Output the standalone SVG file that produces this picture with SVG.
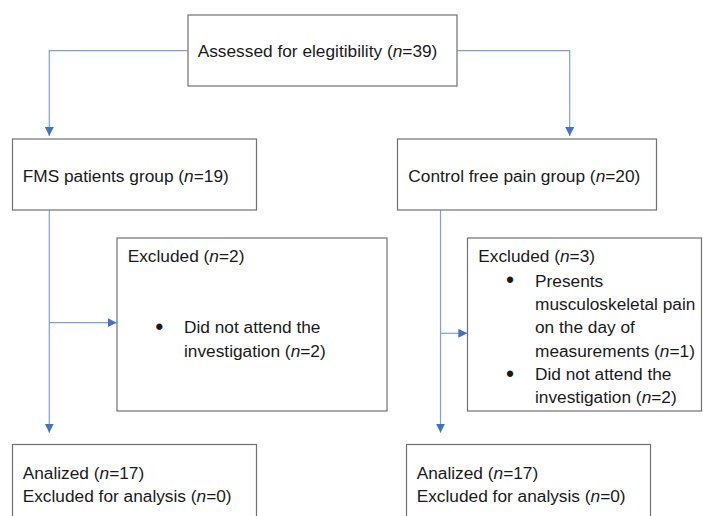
<svg xmlns="http://www.w3.org/2000/svg" width="703" height="516" viewBox="0 0 703 516">
<style>
.box{fill:#ffffff;stroke:#707070;stroke-width:1.2}
.t{font-family:"Liberation Sans",Arial,sans-serif;font-size:17.3px;fill:#1a1a1a}
.b{font-family:"Liberation Sans",Arial,sans-serif;font-size:23px;fill:#1a1a1a}
.i{font-style:italic}
.c{fill:none;stroke:#7f9fe0;stroke-width:1.2}
</style>
<defs>
<marker id="arr" markerUnits="userSpaceOnUse" markerWidth="10" markerHeight="10" refX="9" refY="4.5" orient="auto">
<path d="M0,0 L9,4.5 L0,9 z" fill="#4472c4"/>
</marker>
</defs>
<rect width="703" height="516" fill="#ffffff"/>
<g id="connectors">
<path class="c" d="M187.7,50.7 H49.3 V136" marker-end="url(#arr)"/>
<path class="c" d="M457.3,50.7 H569.7 V136" marker-end="url(#arr)"/>
<path class="c" d="M49.3,210.3 V432.7" marker-end="url(#arr)"/>
<path class="c" d="M49.3,322.7 H116.7" marker-end="url(#arr)"/>
<path class="c" d="M440.5,210.3 V432.7" marker-end="url(#arr)"/>
<path class="c" d="M440.5,333.3 H467.3" marker-end="url(#arr)"/>
</g>
<g id="assessed">
<rect class="box" x="188" y="15" width="269" height="71"/>
<text class="t" x="197.7" y="57.3">Assessed for elegitibility (<tspan class="i">n</tspan>=39)</text>
</g>
<g id="fms">
<rect class="box" x="12.5" y="139" width="244" height="71"/>
<text class="t" x="22.7" y="181.7">FMS patients group (<tspan class="i">n</tspan>=19)</text>
</g>
<g id="control">
<rect class="box" x="397.5" y="139" width="259" height="71"/>
<text class="t" x="408.3" y="181.7">Control free pain group (<tspan class="i">n</tspan>=20)</text>
</g>
<g id="excluded1">
<rect class="box" x="117" y="238" width="270" height="173"/>
<text class="t" x="127.7" y="262.3">Excluded (<tspan class="i">n</tspan>=2)</text>
<text class="b" x="155.3" y="335">•</text>
<text class="t" x="184" y="333.3">Did not attend the</text>
<text class="t" x="184" y="356.7">investigation (<tspan class="i">n</tspan>=2)</text>
</g>
<g id="excluded2">
<rect class="box" x="467.5" y="238" width="234" height="173"/>
<text class="t" x="478.3" y="262.3">Excluded (<tspan class="i">n</tspan>=3)</text>
<text class="b" x="506" y="288.4">•</text>
<text class="t" x="535" y="286.7">Presents</text>
<text class="t" x="535" y="310">musculoskeletal pain</text>
<text class="t" x="535" y="333.3">on the day of</text>
<text class="t" x="535" y="356.7">measurements (<tspan class="i">n</tspan>=1)</text>
<text class="b" x="506" y="381.7">•</text>
<text class="t" x="535" y="380">Did not attend the</text>
<text class="t" x="535" y="403.3">investigation (<tspan class="i">n</tspan>=2)</text>
</g>
<g id="analized1">
<rect class="box" x="12.5" y="444.5" width="244" height="80"/>
<text class="t" x="22.7" y="479">Analized (<tspan class="i">n</tspan>=17)</text>
<text class="t" x="22.7" y="501.7">Excluded for analysis (<tspan class="i">n</tspan>=0)</text>
</g>
<g id="analized2">
<rect class="box" x="406.5" y="444.5" width="244" height="80"/>
<text class="t" x="416.7" y="479">Analized (<tspan class="i">n</tspan>=17)</text>
<text class="t" x="416.7" y="501.7">Excluded for analysis (<tspan class="i">n</tspan>=0)</text>
</g>
</svg>
